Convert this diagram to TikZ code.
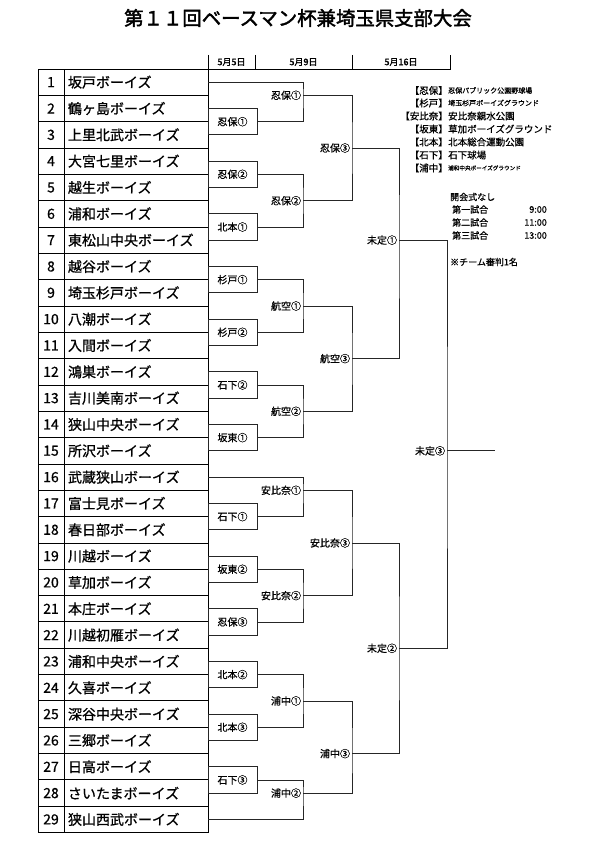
\documentclass[tikz,border=0pt]{standalone}
\usepackage{fontspec}
\setmainfont{Noto Sans CJK JP}[AutoFakeBold=2]
\newfontfamily\heavy{Noto Sans CJK JP}[FakeBold=0.8]
\usepackage{xcolor}
\usepackage{tikz}
\usetikzlibrary{positioning}

\begin{document}
\begin{tikzpicture}[
  x=1pt, y=-1pt,
  num/.style={rectangle, draw, line width=0.9pt, minimum width=26pt, minimum height=26.33pt, inner sep=0pt, outer sep=0pt, font=\heavy\fontsize{14}{14}\selectfont},
  team/.style={rectangle, draw, line width=0.9pt, text width=136pt, minimum height=26.33pt, inner xsep=4pt, inner ysep=0pt, outer sep=0pt, align=left, font=\heavy\fontsize{14}{14}\selectfont},
  first/.style={rectangle, draw=black!85, line width=0.75pt, minimum width=49pt, minimum height=26.33pt, inner sep=0pt, outer sep=0pt, anchor=north west, font=\heavy\fontsize{10}{10}\selectfont},
  tag/.style={anchor=east, inner sep=2pt, outer sep=0pt, font=\heavy\fontsize{10}{10}\selectfont},
  link/.style={draw=black!85, line width=0.75pt},
  date/.style={inner sep=0pt, font=\bfseries\fontsize{9}{9}\selectfont},
  site/.style={anchor=east, inner xsep=0pt, font=\heavy\fontsize{9.5}{9.5}\selectfont},
  place/.style={inner xsep=0pt, font=\heavy\fontsize{9.5}{9.5}\selectfont},
  note/.style={inner xsep=0pt, font=\heavy\fontsize{9}{9}\selectfont},
]
  \useasboundingbox (0,0) rectangle (595,842);

  \node[font=\bfseries\fontsize{19.4}{19.4}\selectfont] (title) at (298,18) {第１１回ベースマン杯兼埼玉県支部大会};

  % dates
  \draw[line width=0.9pt] (208,55) -- (208,69) -- (450,69) -- (450,55);
  \draw[line width=0.9pt] (255,55) -- (255,69);
  \draw[line width=0.9pt] (352,55) -- (352,69);
  \node[date] (d1) at (231.5,62) {5月5日};
  \node[date] (d2) at (303.5,62) {5月9日};
  \node[date] (d3) at (401,62) {5月16日};

  % teams
  \node[num] (n1) at (51,82.17) {1}; \node[team, right=0pt of n1] (t1) {坂戸ボーイズ};
  \node[num, below=0pt of n1] (n2) {2}; \node[team, right=0pt of n2] (t2) {鶴ヶ島ボーイズ};
  \node[num, below=0pt of n2] (n3) {3}; \node[team, right=0pt of n3] (t3) {上里北武ボーイズ};
  \node[num, below=0pt of n3] (n4) {4}; \node[team, right=0pt of n4] (t4) {大宮七里ボーイズ};
  \node[num, below=0pt of n4] (n5) {5}; \node[team, right=0pt of n5] (t5) {越生ボーイズ};
  \node[num, below=0pt of n5] (n6) {6}; \node[team, right=0pt of n6] (t6) {浦和ボーイズ};
  \node[num, below=0pt of n6] (n7) {7}; \node[team, right=0pt of n7] (t7) {東松山中央ボーイズ};
  \node[num, below=0pt of n7] (n8) {8}; \node[team, right=0pt of n8] (t8) {越谷ボーイズ};
  \node[num, below=0pt of n8] (n9) {9}; \node[team, right=0pt of n9] (t9) {埼玉杉戸ボーイズ};
  \node[num, below=0pt of n9] (n10) {10}; \node[team, right=0pt of n10] (t10) {八潮ボーイズ};
  \node[num, below=0pt of n10] (n11) {11}; \node[team, right=0pt of n11] (t11) {入間ボーイズ};
  \node[num, below=0pt of n11] (n12) {12}; \node[team, right=0pt of n12] (t12) {鴻巣ボーイズ};
  \node[num, below=0pt of n12] (n13) {13}; \node[team, right=0pt of n13] (t13) {吉川美南ボーイズ};
  \node[num, below=0pt of n13] (n14) {14}; \node[team, right=0pt of n14] (t14) {狭山中央ボーイズ};
  \node[num, below=0pt of n14] (n15) {15}; \node[team, right=0pt of n15] (t15) {所沢ボーイズ};
  \node[num, below=0pt of n15] (n16) {16}; \node[team, right=0pt of n16] (t16) {武蔵狭山ボーイズ};
  \node[num, below=0pt of n16] (n17) {17}; \node[team, right=0pt of n17] (t17) {富士見ボーイズ};
  \node[num, below=0pt of n17] (n18) {18}; \node[team, right=0pt of n18] (t18) {春日部ボーイズ};
  \node[num, below=0pt of n18] (n19) {19}; \node[team, right=0pt of n19] (t19) {川越ボーイズ};
  \node[num, below=0pt of n19] (n20) {20}; \node[team, right=0pt of n20] (t20) {草加ボーイズ};
  \node[num, below=0pt of n20] (n21) {21}; \node[team, right=0pt of n21] (t21) {本庄ボーイズ};
  \node[num, below=0pt of n21] (n22) {22}; \node[team, right=0pt of n22] (t22) {川越初雁ボーイズ};
  \node[num, below=0pt of n22] (n23) {23}; \node[team, right=0pt of n23] (t23) {浦和中央ボーイズ};
  \node[num, below=0pt of n23] (n24) {24}; \node[team, right=0pt of n24] (t24) {久喜ボーイズ};
  \node[num, below=0pt of n24] (n25) {25}; \node[team, right=0pt of n25] (t25) {深谷中央ボーイズ};
  \node[num, below=0pt of n25] (n26) {26}; \node[team, right=0pt of n26] (t26) {三郷ボーイズ};
  \node[num, below=0pt of n26] (n27) {27}; \node[team, right=0pt of n27] (t27) {日高ボーイズ};
  \node[num, below=0pt of n27] (n28) {28}; \node[team, right=0pt of n28] (t28) {さいたまボーイズ};
  \node[num, below=0pt of n28] (n29) {29}; \node[team, right=0pt of n29] (t29) {狭山西武ボーイズ};

  % first round
  \node[first] (m1) at (t2.east) {忍保①};
  \node[first] (m2) at (t4.east) {忍保②};
  \node[first] (m3) at (t6.east) {北本①};
  \node[first] (m4) at (t8.east) {杉戸①};
  \node[first] (m5) at (t10.east) {杉戸②};
  \node[first] (m6) at (t12.east) {石下②};
  \node[first] (m7) at (t14.east) {坂東①};
  \node[first] (m8) at (t17.east) {石下①};
  \node[first] (m9) at (t19.east) {坂東②};
  \node[first] (m10) at (t21.east) {忍保③};
  \node[first] (m11) at (t23.east) {北本②};
  \node[first] (m12) at (t25.east) {北本③};
  \node[first] (m13) at (t27.east) {石下③};

  % later rounds
  \node[tag] (r1) at (303,95.3) {忍保①};
  \node[tag] (r2) at (303,200.7) {忍保②};
  \node[tag] (r3) at (303,306.0) {航空①};
  \node[tag] (r4) at (303,411.3) {航空②};
  \node[tag] (r5) at (303,490.3) {安比奈①};
  \node[tag] (r6) at (303,595.6) {安比奈②};
  \node[tag] (r7) at (303,700.9) {浦中①};
  \node[tag] (r8) at (303,793.1) {浦中②};
  \node[tag] (s1) at (352,148.0) {忍保③};
  \node[tag] (s2) at (352,358.6) {航空③};
  \node[tag] (s3) at (352,542.9) {安比奈③};
  \node[tag] (s4) at (352,753.6) {浦中③};
  \node[tag] (q1) at (399,240.1) {未定①};
  \node[tag] (q2) at (399,648.3) {未定②};
  \node[tag] (f1) at (447,450.8) {未定③};
  \coordinate (goal) at (495,450.8);

  \draw[link] (t1.east) -| (r1.east) |- (m1.east);
  \draw[link] (m2.east) -| (r2.east) |- (m3.east);
  \draw[link] (m4.east) -| (r3.east) |- (m5.east);
  \draw[link] (m6.east) -| (r4.east) |- (m7.east);
  \draw[link] (t16.east) -| (r5.east) |- (m8.east);
  \draw[link] (m9.east) -| (r6.east) |- (m10.east);
  \draw[link] (m11.east) -| (r7.east) |- (m12.east);
  \draw[link] (m13.east) -| (r8.east) |- (t29.east);
  \draw[link] (r1.east) -| (s1.east) |- (r2.east);
  \draw[link] (r3.east) -| (s2.east) |- (r4.east);
  \draw[link] (r5.east) -| (s3.east) |- (r6.east);
  \draw[link] (r7.east) -| (s4.east) |- (r8.east);
  \draw[link] (s1.east) -| (q1.east) |- (s2.east);
  \draw[link] (s3.east) -| (q2.east) |- (s4.east);
  \draw[link] (q1.east) -| (f1.east) |- (q2.east);
  \draw[link] (f1.east) -- (goal);

  % grounds
  \node[site] (k1) at (448,90.5) {【忍保】};
  \node[place, right=0pt of k1, font=\heavy\fontsize{7}{7}\selectfont] (w1) {忍保パブリック公園野球場};
  \node[site] (k2) at (448,103) {【杉戸】};
  \node[place, right=0pt of k2, font=\heavy\fontsize{7}{7}\selectfont] (w2) {埼玉杉戸ボーイズグラウンド};
  \node[site] (k3) at (448,116) {【安比奈】};
  \node[place, right=0pt of k3] (w3) {安比奈親水公園};
  \node[site] (k4) at (448,129) {【坂東】};
  \node[place, right=0pt of k4] (w4) {草加ボーイズグラウンド};
  \node[site] (k5) at (448,142) {【北本】};
  \node[place, right=0pt of k5] (w5) {北本総合運動公園};
  \node[site] (k6) at (448,155) {【石下】};
  \node[place, right=0pt of k6] (w6) {石下球場};
  \node[site] (k7) at (448,168) {【浦中】};
  \node[place, right=0pt of k7, font=\heavy\fontsize{5.6}{5.6}\selectfont] (w7) {浦和中央ボーイズグラウンド};

  % schedule
  \node[note, anchor=west] (o1) at (450,197) {開会式なし};
  \node[note, anchor=west] (o2) at (452,209.5) {第一試合};
  \node[note, anchor=east] (h2) at (547,209.5) {9:00};
  \node[note, anchor=west] (o3) at (452,222.5) {第二試合};
  \node[note, anchor=east] (h3) at (547,222.5) {11:00};
  \node[note, anchor=west] (o4) at (452,235.5) {第三試合};
  \node[note, anchor=east] (h4) at (547,235.5) {13:00};
  \node[note, anchor=west] (o5) at (450,262) {※チーム審判1名};
\end{tikzpicture}
\end{document}
